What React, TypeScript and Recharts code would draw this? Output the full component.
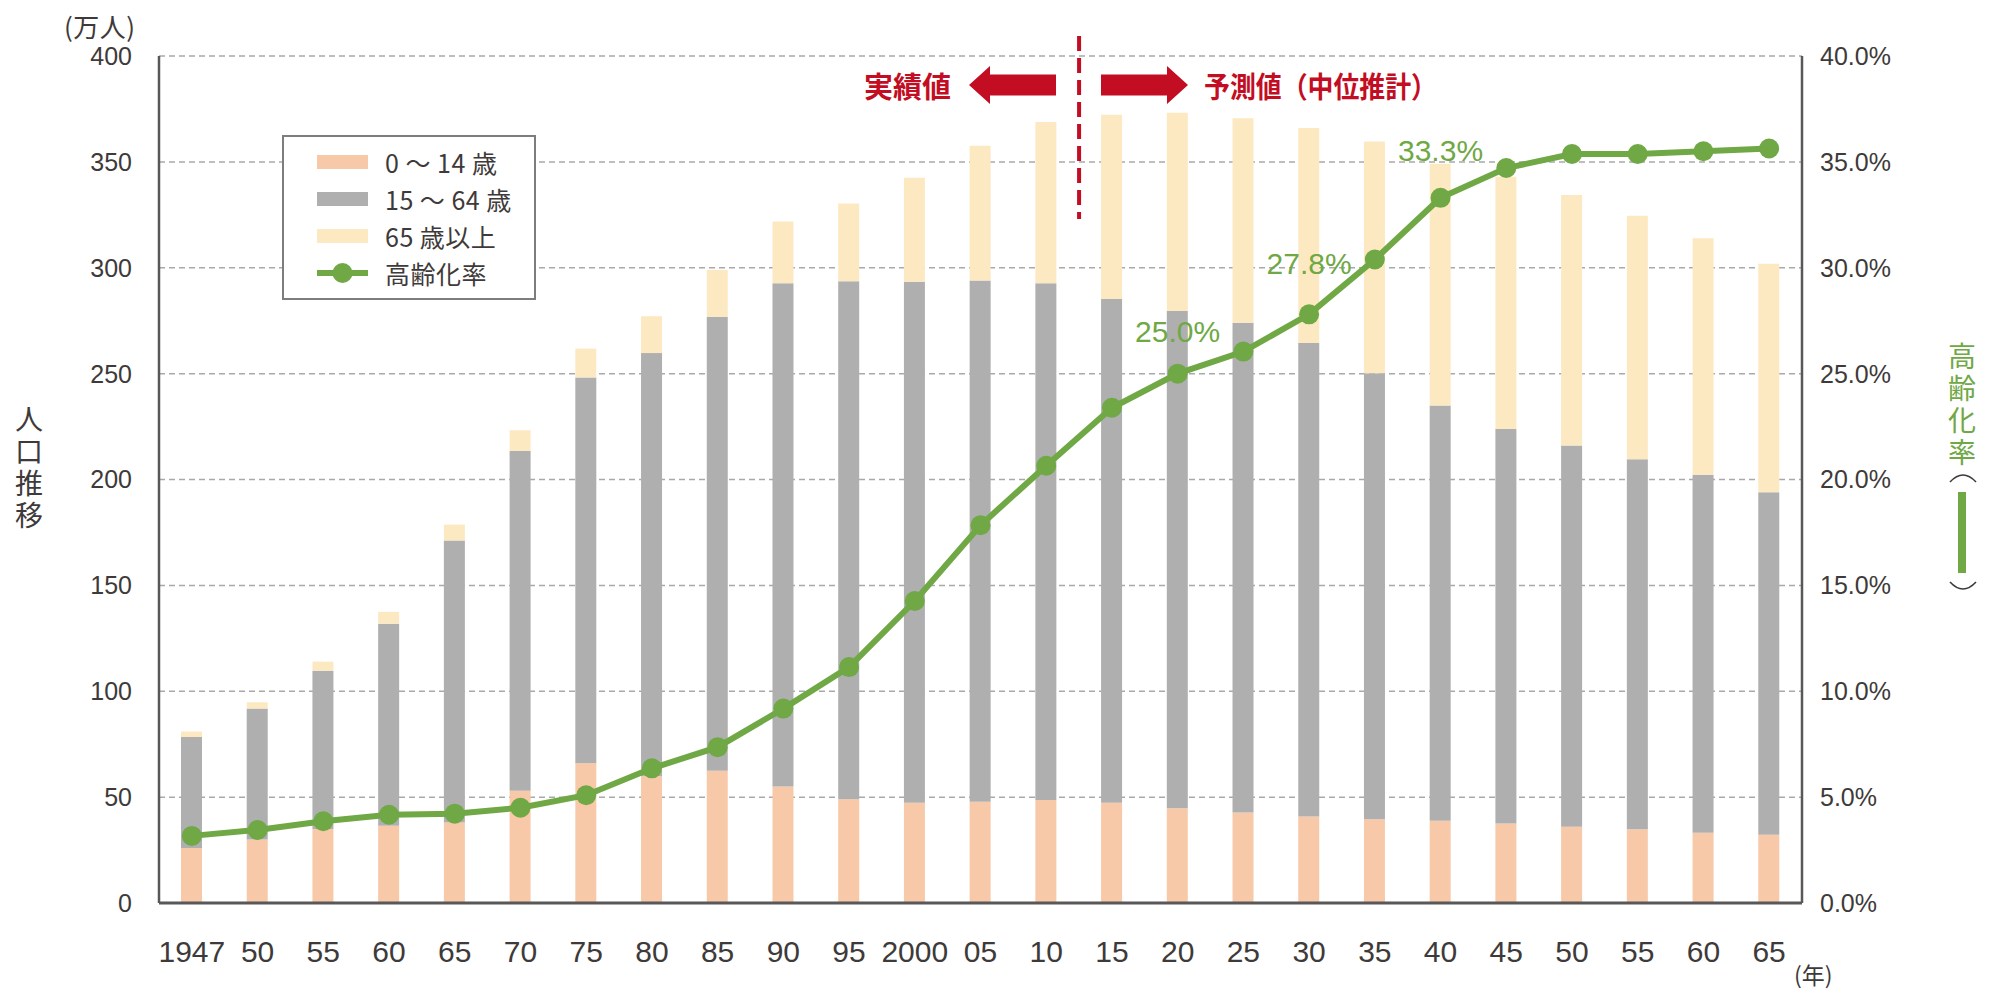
import React from "react";
import {
  ComposedChart,
  Bar,
  Line,
  XAxis,
  YAxis,
  CartesianGrid,
  Legend,
  LabelList,
  ReferenceLine,
} from "recharts";

// 年次（カテゴリ）と軸ラベル
const years = [
  1947, 1950, 1955, 1960, 1965, 1970, 1975, 1980, 1985, 1990, 1995, 2000, 2005,
  2010, 2015, 2020, 2025, 2030, 2035, 2040, 2045, 2050, 2055, 2060, 2065,
];
const yearLabels = [
  "1947", "50", "55", "60", "65", "70", "75", "80", "85", "90", "95", "2000", "05",
  "10", "15", "20", "25", "30", "35", "40", "45", "50", "55", "60", "65",
];

// 人口（万人）
const age0to14 = [
  26, 30, 35, 36.5, 38, 53, 66, 60, 62.5, 55, 49, 47.3, 47.8,
  48.6, 47.3, 44.7, 42.7, 40.9, 39.6, 38.9, 37.6, 36, 34.8, 33.2, 32.2,
];
const age15to64 = [
  52.4, 61.8, 74.7, 95.4, 133.2, 160.5, 182.2, 199.7, 214.4, 237.7, 244.6, 246.1, 246.2,
  244.1, 237.9, 234.9, 231.3, 223.6, 210.6, 196, 186.3, 180, 174.8, 169, 161.8,
];
const age65plus = [
  2.6, 3, 4.3, 5.6, 7.5, 9.7, 13.6, 17.4, 22, 29.1, 36.8, 49.1, 63.6,
  76.1, 87, 93.6, 96.6, 101.5, 109.4, 114.2, 119.1, 118.3, 115, 111.7, 107.9,
];
// 高齢化率（%）
const agingRate = [
  3.17, 3.45, 3.86, 4.17, 4.22, 4.5, 5.09, 6.36, 7.36, 9.18, 11.14, 14.26, 17.84,
  20.65, 23.39, 25.0, 26.04, 27.8, 30.39, 33.3, 34.71, 35.37, 35.37, 35.5, 35.63,
];
const labeledYears = [2020, 2030, 2040];

const leftTicks = [0, 50, 100, 150, 200, 250, 300, 350, 400];
const rightTicks = [0, 5, 10, 15, 20, 25, 30, 35, 40];

const legendLabels = ["0 ～ 14 歳", "15 ～ 64 歳", "65 歳以上", "高齢化率"];

const data = years.map((year, i) => ({
  year,
  young: age0to14[i],
  working: age15to64[i],
  elderly: age65plus[i],
  rate: agingRate[i],
}));

const ORANGE = "#f7c9a8";
const GRAY = "#afafaf";
const YELLOW = "#fde9c1";
const GREEN = "#6fa845";
const RED = "#c30d23";
const TEXT = "#3e3a39";
const AXIS = "#595757";
const JP = "'Noto Sans CJK JP', 'Noto Sans', sans-serif";
const NUM = "'Liberation Sans', Arial, sans-serif";

const labelDy: Record<number, number> = { 2020: -42, 2030: -51, 2040: -47 };

const RateLabel = (props: any) => {
  const { x, y, value, index } = props;
  const year = years[index];
  if (!labeledYears.includes(year)) return null;
  return (
    <text
      x={x}
      y={y + labelDy[year]}
      textAnchor="middle"
      dominantBaseline="central"
      fill={GREEN}
      fontSize={30}
      fontFamily={NUM}
    >
      {`${Number(value).toFixed(1)}%`}
    </text>
  );
};

const LegendBox = () => {
  const colors = [ORANGE, GRAY, YELLOW];
  return (
    <div
      style={{
        width: 250,
        height: 161,
        border: "2px solid #7d7d7d",
        background: "#fff",
        position: "relative",
        fontFamily: JP,
        fontSize: 25,
        letterSpacing: 0.5,
        color: TEXT,
      }}
    >
      {legendLabels.map((label, i) => (
        <div
          key={label}
          style={{
            position: "absolute",
            left: 0,
            top: 25 + i * 37 - 18,
            height: 36,
            display: "flex",
            alignItems: "center",
          }}
        >
          {i < 3 ? (
            <div style={{ marginLeft: 33, width: 51, height: 14, background: colors[i] }} />
          ) : (
            <svg width={51} height={22} style={{ marginLeft: 33 }}>
              <line x1={0} y1={11} x2={51} y2={11} stroke={GREEN} strokeWidth={6} />
              <circle cx={25.5} cy={11} r={10} fill={GREEN} />
            </svg>
          )}
          <span style={{ marginLeft: 17, whiteSpace: "nowrap" }}>{label}</span>
        </div>
      ))}
    </div>
  );
};

const Arrow = ({ x1, x2, y, dir }: { x1: number; x2: number; y: number; dir: "left" | "right" }) => {
  const head = 21;
  const hh = 19;
  const bh = 10.5;
  const d =
    dir === "left"
      ? `M${x1},${y} L${x1 + head},${y - hh} L${x1 + head},${y - bh} L${x2},${y - bh} L${x2},${y + bh} L${x1 + head},${y + bh} L${x1 + head},${y + hh} Z`
      : `M${x2},${y} L${x2 - head},${y - hh} L${x2 - head},${y - bh} L${x1},${y - bh} L${x1},${y + bh} L${x2 - head},${y + bh} L${x2 - head},${y + hh} Z`;
  return <path d={d} fill={RED} />;
};

const verticalText = (color: string): React.CSSProperties => ({
  position: "absolute",
  writingMode: "vertical-rl",
  fontFamily: JP,
  fontSize: 28,
  lineHeight: "28px",
  letterSpacing: 4,
  color,
  whiteSpace: "nowrap",
});

export default function App() {
  return (
    <div style={{ position: "relative", width: 1980, height: 981 }}>
      <ComposedChart
        width={1980}
        height={981}
        data={data}
        margin={{ top: 48, right: 0, bottom: 0, left: 0 }}
        style={{ fontFamily: NUM }}
      >
        <CartesianGrid
          yAxisId="left"
          vertical={false}
          stroke="#a9a9a9"
          strokeDasharray="6 4"
          strokeWidth={1.5}
        />
        <XAxis
          dataKey="year"
          type="category"
          height={86}
          tickLine={false}
          tickSize={0}
          tickMargin={38}
          tickFormatter={(_v: any, i: number) => yearLabels[i]}
          interval={0}
          axisLine={{ stroke: AXIS, strokeWidth: 3 }}
          tick={{ fill: TEXT, fontSize: 30, fontFamily: NUM }}
        />
        <YAxis
          yAxisId="left"
          orientation="left"
          width={151}
          domain={[0, 400]}
          ticks={leftTicks}
          interval={0}
          tickLine={false}
          tickSize={0}
          tickMargin={27}
          axisLine={{ stroke: AXIS, strokeWidth: 2.5 }}
          tick={{ fill: TEXT, fontSize: 25, fontFamily: NUM }}
        />
        <YAxis
          yAxisId="right"
          orientation="right"
          width={186}
          domain={[0, 40]}
          ticks={rightTicks}
          interval={0}
          tickLine={false}
          tickSize={0}
          tickMargin={18}
          tickFormatter={(v: number) => `${v.toFixed(1)}%`}
          axisLine={{ stroke: AXIS, strokeWidth: 2.5 }}
          tick={{ fill: TEXT, fontSize: 25, fontFamily: NUM }}
        />
        <Bar yAxisId="left" dataKey="young" stackId="pop" fill={ORANGE} barSize={21} isAnimationActive={false} />
        <Bar yAxisId="left" dataKey="working" stackId="pop" fill={GRAY} barSize={21} isAnimationActive={false} />
        <Bar yAxisId="left" dataKey="elderly" stackId="pop" fill={YELLOW} barSize={21} isAnimationActive={false} />
        <Line
          yAxisId="right"
          type="linear"
          dataKey="rate"
          stroke={GREEN}
          strokeWidth={6}
          dot={{ r: 10, fill: GREEN, stroke: "none" }}
          activeDot={false}
          isAnimationActive={false}
        >
          <LabelList dataKey="rate" content={RateLabel} />
        </Line>
        <ReferenceLine
          yAxisId="left"
          segment={[
            { x: 2010, y: 409.4 },
            { x: 2010, y: 323 },
          ]}
          position="end"
          ifOverflow="visible"
          stroke={RED}
          strokeWidth={4}
          strokeDasharray="15 7"
        />
        <Legend
          layout="vertical"
          align="center"
          verticalAlign="middle"
          content={() => <LegendBox />}
          wrapperStyle={{ position: "absolute", left: 274, top: 127, width: 254, height: 165 }}
        />
      </ComposedChart>

      <div style={{ ...verticalText(TEXT), left: 7, top: 397 }}>人口推移</div>
      <div style={{ ...verticalText(GREEN), left: 1940, top: 334 }}>高齢化率</div>
      <div
        style={{
          position: "absolute",
          left: 1786,
          top: 955,
          fontFamily: JP,
          fontSize: 23,
          lineHeight: "23px",
          color: TEXT,
          whiteSpace: "nowrap",
        }}
      >
        (年)
      </div>

      <svg
        width={1980}
        height={981}
        style={{ position: "absolute", left: 0, top: 0, pointerEvents: "none" }}
      >
        <text
          x={56}
          y={17}
          dominantBaseline="central"
          fontSize={26}
          fill={TEXT}
          fontFamily={JP}
          textLength={71}
          lengthAdjust="spacing"
        >
          (万人)
        </text>
        <path d="M1942,474 Q1955,460 1968,474" fill="none" stroke={TEXT} strokeWidth={1.6} />
        <rect x={1950} y={484} width={8} height={81} fill={GREEN} />
        <path d="M1942,574 Q1955,588 1968,574" fill="none" stroke={TEXT} strokeWidth={1.6} />

        <text
          x={943}
          y={77}
          textAnchor="end"
          dominantBaseline="central"
          fontSize={29}
          fontWeight="bold"
          fill={RED}
          fontFamily={JP}
        >
          実績値
        </text>
        <Arrow x1={961} x2={1048} y={77} dir="left" />
        <Arrow x1={1093} x2={1180} y={77} dir="right" />
        <text
          x={1196}
          y={77}
          dominantBaseline="central"
          fontSize={29}
          fontWeight="bold"
          fill={RED}
          fontFamily={JP}
          textLength={233}
          lengthAdjust="spacingAndGlyphs"
        >
          予測値（中位推計）
        </text>
      </svg>
    </div>
  );
}
